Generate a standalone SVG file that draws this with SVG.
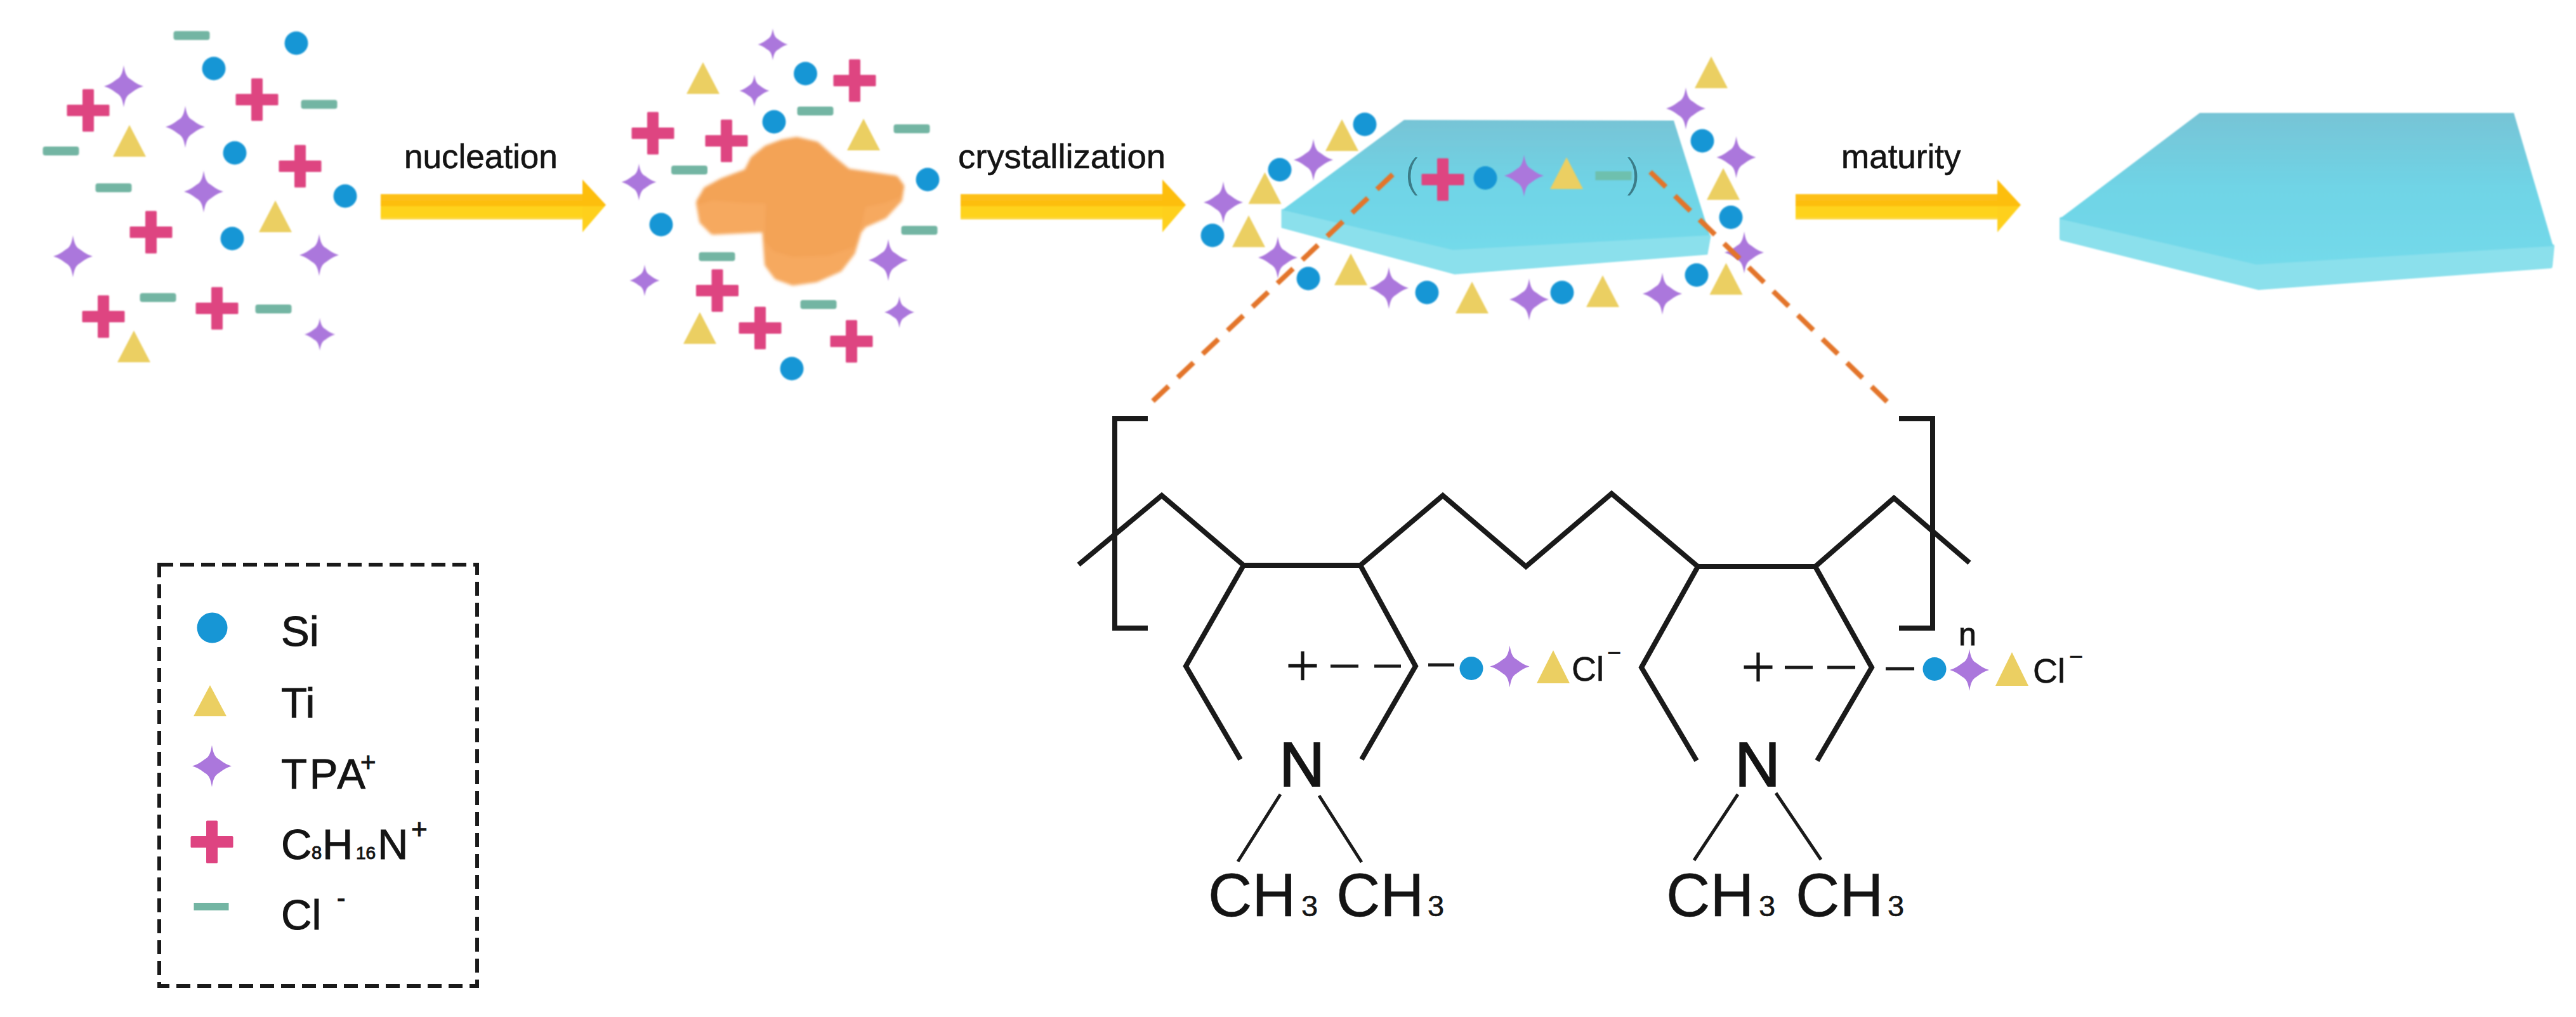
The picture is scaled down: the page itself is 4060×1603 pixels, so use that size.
<svg xmlns="http://www.w3.org/2000/svg" width="4060" height="1603" viewBox="0 0 4060 1603">
<style>
text{font-family:"Liberation Sans",Arial,sans-serif;fill:#141414}
.lab{font-size:53px;stroke:#141414;stroke-width:.6px}
.leg{font-size:67px;stroke:#141414;stroke-width:1px}
.bond{fill:none;stroke:#1a1a1a;stroke-width:8;stroke-linejoin:miter}
.thin{fill:none;stroke:#1a1a1a;stroke-width:5}
.orange{fill:none;stroke:#E3742A;stroke-width:8;stroke-dasharray:34 20}
.si{fill:#1796D5}.ti{fill:#EBCF62}.tpa{fill:#AB77DC}.cat{fill:#DE4481}.cl{fill:#73B5A3}
.big{font-size:96px;stroke:#141414;stroke-width:.5px}.sub{font-size:47px}.n{font-size:99px;text-anchor:middle;stroke:#141414;stroke-width:2px}.cll{font-size:54px;stroke:#141414;stroke-width:.5px}.sup{font-size:38px}
.plus{font-size:96px;text-anchor:middle;stroke:#fff;stroke-width:1.500px}
.paren{font-size:67px;fill:#3C7C88;stroke:#6FD4E6;stroke-width:1.500px}
.soft{filter:url(#soft)}
.softer{filter:url(#softer)}
</style>
<defs>
<filter id="soft" x="-5%" y="-5%" width="110%" height="110%"><feGaussianBlur stdDeviation="1.300"/></filter>
<filter id="softer" x="-5%" y="-5%" width="110%" height="110%"><feGaussianBlur stdDeviation="2.500"/></filter>
<linearGradient id="gA" x1="0" y1="0" x2="0" y2="1"><stop offset="0" stop-color="#FDC014"/><stop offset=".47" stop-color="#FDBE10"/><stop offset=".47" stop-color="#FED31C"/><stop offset=".9" stop-color="#FED31C"/><stop offset="1" stop-color="#FBDD66"/></linearGradient>
<linearGradient id="gH" x1="0" y1="0" x2="0" y2="1"><stop offset="0" stop-color="#FDBE10"/><stop offset=".5" stop-color="#FDBE10"/><stop offset=".5" stop-color="#FED01A"/><stop offset="1" stop-color="#FED01A"/></linearGradient>
<linearGradient id="gT" x1="0" y1="0" x2="0" y2="1"><stop offset="0" stop-color="#77C4D6"/><stop offset=".5" stop-color="#6FD4E6"/><stop offset="1" stop-color="#74DAEA"/></linearGradient>
<g id="arrow"><rect x="0" y="24" width="320" height="40" fill="url(#gA)"/><polygon points="318,1 355,41 318,84" fill="url(#gH)"/></g>
<circle id="si" r="18.500" class="si"/>
<polygon id="ti" points="0,-25 26,25 -26,25" class="ti"/>
<path id="tpa" class="tpa" d="M0 -33C2 -20 5 -14 11 -11C15 -8 21 -3 31 0C21 3 15 8 11 11C5 14 2 20 0 33C-2 20 -5 14 -11 11C-15 8 -21 3 -31 0C-21 -3 -15 -8 -11 -11C-5 -14 -2 -20 0 -33Z"/>
<path id="cat" class="cat" d="M-7.500 -32H7.500V-7.500H32V7.500H7.500V32H-7.500V7.500H-32V-7.500H-7.500Z" stroke="#DE4481" stroke-width="3" stroke-linejoin="round"/>
<rect id="cl" x="-28.500" y="-7" width="57" height="14" rx="4" class="cl"/>
</defs>
<rect width="4060" height="1603" fill="#fff"/>

<g id="particles-1" class="soft">
<use href="#cl" x="302" y="56"/><use href="#cl" x="503" y="164.500"/><use href="#cl" x="96" y="238"/><use href="#cl" x="179" y="296"/><use href="#cl" x="249" y="469"/><use href="#cl" x="431" y="487"/>
<use href="#si" x="467" y="68"/><use href="#si" x="337" y="108"/><use href="#si" x="370" y="241"/><use href="#si" x="544" y="309"/><use href="#si" x="366" y="376"/>
<use href="#cat" x="139" y="174"/><use href="#cat" x="405" y="157"/><use href="#cat" x="473" y="262"/><use href="#cat" x="238" y="366"/><use href="#cat" x="163" y="499"/><use href="#cat" x="342" y="486"/>
<use href="#tpa" x="195" y="136"/><use href="#tpa" x="292" y="200"/><use href="#tpa" x="321" y="302"/><use href="#tpa" x="115" y="404"/><use href="#tpa" x="503" y="402"/><use href="#tpa" transform="translate(504 527) scale(.78)"/>
<use href="#ti" x="204" y="222"/><use href="#ti" x="434" y="341"/><use href="#ti" x="211" y="546"/>
</g>

<g id="connectors" class="soft">
<use href="#arrow" x="600" y="282"/>
<use href="#arrow" x="1514" y="282"/>
<use href="#arrow" x="2830" y="282"/>
</g>
<text id="label-nucleation" class="lab" x="637" y="265">nucleation</text>
<text id="label-crystallization" class="lab" x="1510" y="265" textLength="327" lengthAdjust="spacingAndGlyphs">crystallization</text>
<text id="label-maturity" class="lab" x="2902" y="265">maturity</text>

<g id="particles-2" class="soft">
<use href="#tpa" transform="translate(1218 70) scale(.76)"/><use href="#tpa" transform="translate(1189 143) scale(.76)"/><use href="#tpa" transform="translate(1007 287) scale(.88)"/><use href="#tpa" x="1400" y="410"/><use href="#tpa" transform="translate(1016 442) scale(.76)"/><use href="#tpa" transform="translate(1417.500 492) scale(.76)"/>
<use href="#ti" x="1108" y="123"/><use href="#ti" x="1361" y="212"/><use href="#ti" x="1103" y="517"/>
<use href="#si" x="1269.500" y="116"/><use href="#si" x="1220" y="192"/><use href="#si" x="1462" y="283"/><use href="#si" x="1042" y="354"/><use href="#si" x="1248" y="581"/>
<use href="#cat" x="1347" y="127"/><use href="#cat" x="1029" y="210"/><use href="#cat" x="1145" y="222"/><use href="#cat" x="1130.500" y="458"/><use href="#cat" x="1198" y="517"/><use href="#cat" x="1342" y="538"/>
<use href="#cl" x="1285" y="175"/><use href="#cl" x="1437" y="203"/><use href="#cl" x="1086.500" y="268"/><use href="#cl" x="1449" y="363"/><use href="#cl" x="1130" y="404.500"/><use href="#cl" x="1290" y="480"/>
</g>
<g id="nucleus" class="softer">
<polygon fill="#F6A95F" stroke="#F6A95F" stroke-width="12" stroke-linejoin="round" points="1256,222 1286,229 1309,250 1336,272 1384,279 1411,283 1419,294 1416,314 1393,339 1361,353 1352,364 1342,397 1322,423 1286,439 1250,444 1225,435 1211,416 1207,360 1124,364 1108,348 1103,320 1114,300 1138,287 1178,272 1188,252 1209,235 1233,226"/>
<polygon fill="#F3A356" stroke="#F3A356" stroke-width="10" stroke-linejoin="round" points="1256,221 1286,228 1309,249 1336,271 1384,278 1411,282 1420,294 1417,306 1394,315 1360,322 1353,354 1343,385 1305,398 1250,400 1222,392 1210,378 1212,316 1173,315 1122,311 1103,317 1114,300 1138,286 1178,271 1188,251 1209,234 1233,225"/>
</g>

<g id="plate-1" class="soft">
<polygon fill="#8BE0EC" stroke="#8BE0EC" stroke-width="3" stroke-linejoin="round" points="2021,331 2021,358 2293,431 2690,400 2695,372"/>
<polygon fill="url(#gT)" points="2213,189 2638,190 2695,371 2290,394 2021,331"/>
</g>
<g id="plate-1-content">
<text class="paren" x="2214" y="295">(</text>
<g class="soft"><use href="#cat" x="2274" y="283"/><use href="#si" x="2341" y="280.500"/><use href="#tpa" x="2402" y="277"/><use href="#ti" x="2469" y="273"/>
<rect x="2514.500" y="270" width="57" height="14" class="cl" style="fill:#6EC0AE"/></g>
<text class="paren" x="2563" y="295">)</text>
</g>
<g id="particles-3" class="soft">
<use href="#si" x="2151" y="196"/><use href="#si" x="2017" y="267.500"/><use href="#si" x="1911" y="371"/><use href="#si" x="2062" y="439"/><use href="#si" x="2249" y="461"/><use href="#si" x="2462" y="461"/><use href="#si" x="2674" y="433.500"/><use href="#si" x="2728" y="342.500"/><use href="#si" x="2683" y="222"/>
<use href="#ti" x="2115" y="213"/><use href="#ti" x="1993.500" y="296.500"/><use href="#ti" x="1968" y="364.500"/><use href="#ti" x="2129" y="424.500"/><use href="#ti" x="2320" y="469"/><use href="#ti" x="2526" y="459"/><use href="#ti" x="2720.500" y="439.500"/><use href="#ti" x="2716" y="290"/><use href="#ti" x="2697" y="114"/>
<use href="#tpa" x="2070" y="252"/><use href="#tpa" x="1928" y="319"/><use href="#tpa" x="2014" y="406"/><use href="#tpa" x="2189" y="454"/><use href="#tpa" x="2410" y="472"/><use href="#tpa" x="2620" y="463"/><use href="#tpa" x="2749" y="398"/><use href="#tpa" x="2736.500" y="248"/><use href="#tpa" x="2657" y="171"/>
</g>
<g id="zoom-guides" class="soft">
<path class="orange" d="M2195 275L1815 634"/>
<path class="orange" d="M2601 271L2975 634"/>
</g>

<g id="plate-2" class="soft">
<polygon fill="#8BE0EC" stroke="#8BE0EC" stroke-width="6" stroke-linejoin="round" points="3249,345 3249,376 3560,454 4020,420 4023,388"/>
<polygon fill="url(#gT)" points="3467,178 3962,178 4024,388 3556,417 3246,345"/>
</g>

<g id="legend">
<rect x="251" y="890" width="501" height="664" fill="none" stroke="#1a1a1a" stroke-width="6" stroke-dasharray="22 11"/>
<g id="legend-si"><circle cx="334.500" cy="989.500" r="24" class="si"/><text class="leg" x="443" y="1018">Si</text></g>
<g id="legend-ti"><polygon points="331,1080 357,1129 305,1129" class="ti"/><text class="leg" x="443" y="1131">Ti</text></g>
<g id="legend-tpa"><use href="#tpa" x="334" y="1207.500"/><text class="leg" x="443" y="1243" textLength="133" lengthAdjust="spacing">TPA</text><text class="leg" x="568" y="1216" style="font-size:42px">+</text></g>
<g id="legend-cat"><use href="#cat" x="334" y="1327"/><text class="leg" y="1354"><tspan x="443">C</tspan><tspan x="491" style="font-size:29px">8</tspan><tspan x="508">H</tspan><tspan x="561" style="font-size:28px">16</tspan><tspan x="595">N</tspan><tspan x="648" y="1322" style="font-size:44px">+</tspan></text></g>
<g id="legend-cl"><rect x="305.500" y="1423" width="55" height="12" class="cl"/><text class="leg" x="443" y="1465">Cl<tspan style="font-size:40px" x="531" y="1429">-</tspan></text></g>
</g>

<g id="polymer">
<path class="bond" d="M1809 660H1757V990H1809"/>
<path class="bond" d="M2993 660H3046V990H2993"/>
<path class="bond" d="M1700 890L1831 781L1960 891H2144L2274 781L2405 893L2540 778L2676 893H2861L2985 785L3104 887"/>
<path class="bond" d="M1960 891L1869 1050L1955 1197"/>
<path class="bond" d="M2144 891L2231 1050L2146 1197"/>
<path class="bond" d="M2676 893L2587 1052L2674 1199"/>
<path class="bond" d="M2861 893L2950 1052L2864 1199"/>
<path class="thin" d="M2018 1252L1951 1358M2079 1254L2146 1359M2739 1252L2670 1356M2799 1250L2870 1355"/>
<path class="thin" d="M2097 1050H2141M2166 1050H2208M2251 1048H2292M2813 1052H2857M2880 1052H2924M2972 1054H3017"/>
<text class="plus" x="2053" y="1082">+</text>
<text class="plus" x="2771" y="1084">+</text>
<text class="n" x="2052" y="1239">N</text>
<text class="n" x="2770" y="1239">N</text>
<text class="big" y="1444"><tspan x="1904">CH</tspan><tspan class="sub" x="2051">3</tspan></text>
<text class="big" y="1444"><tspan x="2106">CH</tspan><tspan class="sub" x="2250">3</tspan></text>
<text class="big" y="1444"><tspan x="2626">CH</tspan><tspan class="sub" x="2772">3</tspan></text>
<text class="big" y="1444"><tspan x="2830">CH</tspan><tspan class="sub" x="2975">3</tspan></text>
<g id="chain-1"><use href="#si" x="2319" y="1053.500"/><use href="#tpa" x="2379.500" y="1050.500"/><polygon points="2448,1025 2474,1077 2422,1077" class="ti"/><text class="cll" x="2477" y="1073">Cl<tspan class="sup" x="2533" y="1042">−</tspan></text></g>
<g id="chain-2"><use href="#si" x="3049" y="1054.500"/><use href="#tpa" x="3104" y="1056"/><polygon points="3171,1028 3197,1081 3145,1081" class="ti"/><text class="cll" x="3204" y="1076">Cl<tspan class="sup" x="3261" y="1048">−</tspan></text></g>
<text x="3087" y="1017" font-size="50" stroke="#141414" stroke-width="1">n</text>
</g>
</svg>
